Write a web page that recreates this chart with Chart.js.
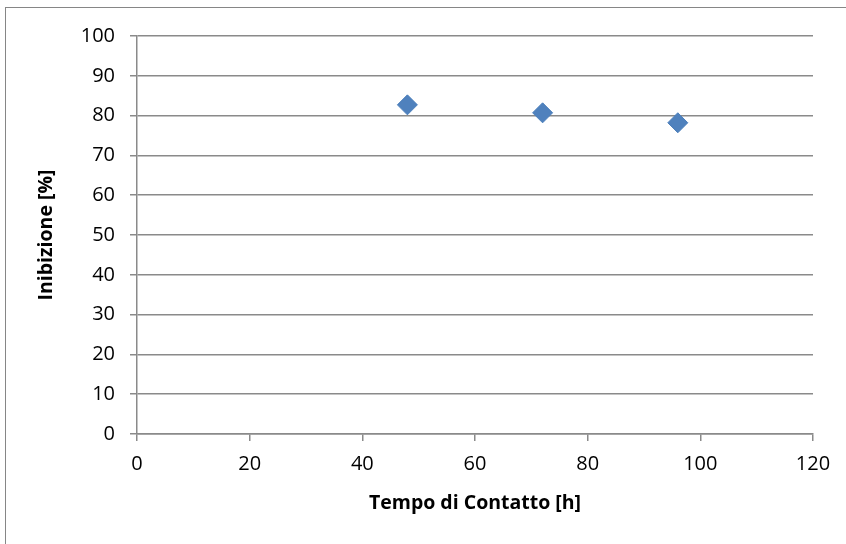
<!DOCTYPE html>
<html>
<head>
<meta charset="utf-8">
<script src="https://cdn.jsdelivr.net/npm/chart.js@4"></script>
<style>
  body { margin: 0; background: #fff; }
  #wrap { position: relative; width: 846px; height: 544px; overflow: hidden; }
  #frame { position: absolute; left: 5px; top: 7px; width: 900px; height: 600px; border: 1px solid #868686; }
  canvas { position: absolute; left: 0; top: 0; }
</style>
</head>
<body>
<div id="wrap">
  <div id="frame"></div>
  <canvas id="chart" width="846" height="544"></canvas>
</div>
<script>
// dati
const tempi = [48, 72, 96];          // Tempo di Contatto [h]
const inibizione = [82.7, 80.7, 78.2]; // Inibizione [%]
const xTicks = [0, 20, 40, 60, 80, 100, 120];
const yTicks = [0, 10, 20, 30, 40, 50, 60, 70, 80, 90, 100];

const fontFamily = '"Open Sans", "DejaVu Sans", sans-serif';
const gridColor = '#8a8a8a';

function createChart() {
    const ctx = document.getElementById('chart').getContext('2d');
    const points = tempi.map((t, i) => ({ x: t, y: inibizione[i] }));

    new Chart(ctx, {
        type: 'scatter',
        data: {
            datasets: [{
                data: points,
                pointStyle: 'rectRot',
                pointRadius: 10,
                pointHoverRadius: 10,
                backgroundColor: '#4F81BD',
                borderColor: '#4A7EBB',
                borderWidth: 1
            }]
        },
        options: {
            responsive: false,
            animation: false,
            layout: { padding: { left: 20, top: 36, right: 33, bottom: 0 } },
            plugins: { legend: { display: false }, tooltip: { enabled: false } },
            scales: {
                x: {
                    type: 'linear',
                    min: xTicks[0],
                    max: xTicks[xTicks.length - 1],
                    afterBuildTicks: (axis) => { axis.ticks = xTicks.map(v => ({ value: v })); },
                    afterFit: (axis) => { axis.height = 110; },
                    border: { color: gridColor, width: 1.5 },
                    grid: { drawOnChartArea: false, drawTicks: true, tickLength: 7, color: gridColor, lineWidth: 1.5 },
                    ticks: { color: '#000', padding: 11, font: { family: fontFamily, size: 20 } },
                    title: {
                        display: true,
                        text: 'Tempo di Contatto [h]',
                        color: '#000',
                        padding: { top: 0, bottom: 29 },
                        font: { family: fontFamily, size: 19.5, weight: 'bold' }
                    }
                },
                y: {
                    type: 'linear',
                    min: yTicks[0],
                    max: yTicks[yTicks.length - 1],
                    afterBuildTicks: (axis) => { axis.ticks = yTicks.map(v => ({ value: v })); },
                    afterFit: (axis) => { axis.width = 117; },
                    border: { color: gridColor, width: 1.5 },
                    grid: { drawTicks: true, tickLength: 7, color: gridColor, lineWidth: 1.5 },
                    ticks: { color: '#000', padding: 15, font: { family: fontFamily, size: 20 } },
                    title: {
                        display: true,
                        text: 'Inibizione [%]',
                        color: '#000',
                        padding: { top: 15, bottom: 0 },
                        font: { family: fontFamily, size: 19.5, weight: 'bold' }
                    }
                }
            }
        }
    });
}

window.onload = createChart;
</script>
</body>
</html>
